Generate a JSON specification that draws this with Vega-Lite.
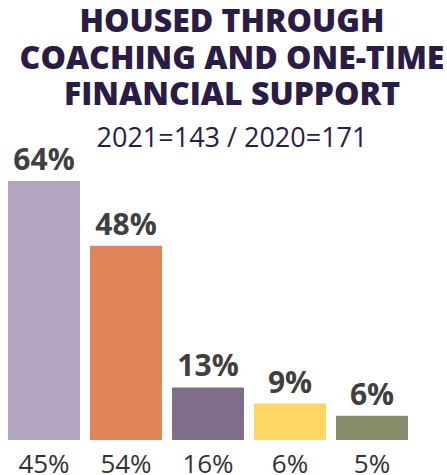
{
  "$schema": "https://vega.github.io/schema/vega-lite/v6.json",
  "width": 410,
  "height": 259,
  "autosize": "none",
  "padding": {"left": 3, "top": 181, "right": 34, "bottom": 35},
  "title": {
    "text": ["HOUSED THROUGH", "COACHING AND ONE-TIME", "FINANCIAL SUPPORT"],
    "subtitle": "2021=143 / 2020=171",
    "anchor": "middle",
    "dx": 24,
    "offset": -7,
    "font": "Open Sans",
    "fontSize": 32,
    "fontWeight": 800,
    "color": "#2B1C45",
    "lineHeight": 36.5,
    "subtitleFont": "Open Sans",
    "subtitleFontSize": 27,
    "subtitleColor": "#2B1C45",
    "subtitlePadding": 14
  },
  "data": {
    "values": [
      {"group": "g1", "pct2021": 64, "label2021": "64%", "label2020": "45%"},
      {"group": "g2", "pct2021": 48, "label2021": "48%", "label2020": "54%"},
      {"group": "g3", "pct2021": 13, "label2021": "13%", "label2020": "16%"},
      {"group": "g4", "pct2021": 9, "label2021": "9%", "label2020": "6%"},
      {"group": "g5", "pct2021": 6, "label2021": "6%", "label2020": "5%"}
    ]
  },
  "encoding": {
    "x": {
      "field": "group",
      "type": "nominal",
      "sort": null,
      "axis": null,
      "scale": {"paddingInner": 0.122, "paddingOuter": 0.061}
    }
  },
  "layer": [
    {
      "mark": {"type": "bar"},
      "encoding": {
        "y": {"field": "pct2021", "type": "quantitative", "axis": null, "scale": {"domain": [0, 64], "nice": false}},
        "color": {
          "field": "group",
          "type": "nominal",
          "legend": null,
          "scale": {"domain": ["g1", "g2", "g3", "g4", "g5"], "range": ["#B3A5BF", "#E08459", "#7F6E8A", "#FDD663", "#868C69"]}
        }
      }
    },
    {
      "mark": {"type": "text", "font": "Open Sans", "fontSize": 30, "fontWeight": "bold", "color": "#404040", "baseline": "alphabetic", "dy": -11},
      "encoding": {
        "y": {"field": "pct2021", "type": "quantitative"},
        "text": {"field": "label2021"}
      }
    },
    {
      "mark": {"type": "text", "font": "Open Sans", "fontSize": 26, "fontWeight": "normal", "color": "#333333", "baseline": "alphabetic", "dy": 33},
      "encoding": {
        "y": {"datum": 0, "type": "quantitative"},
        "text": {"field": "label2020"}
      }
    }
  ],
  "config": {"view": {"stroke": null}}
}
